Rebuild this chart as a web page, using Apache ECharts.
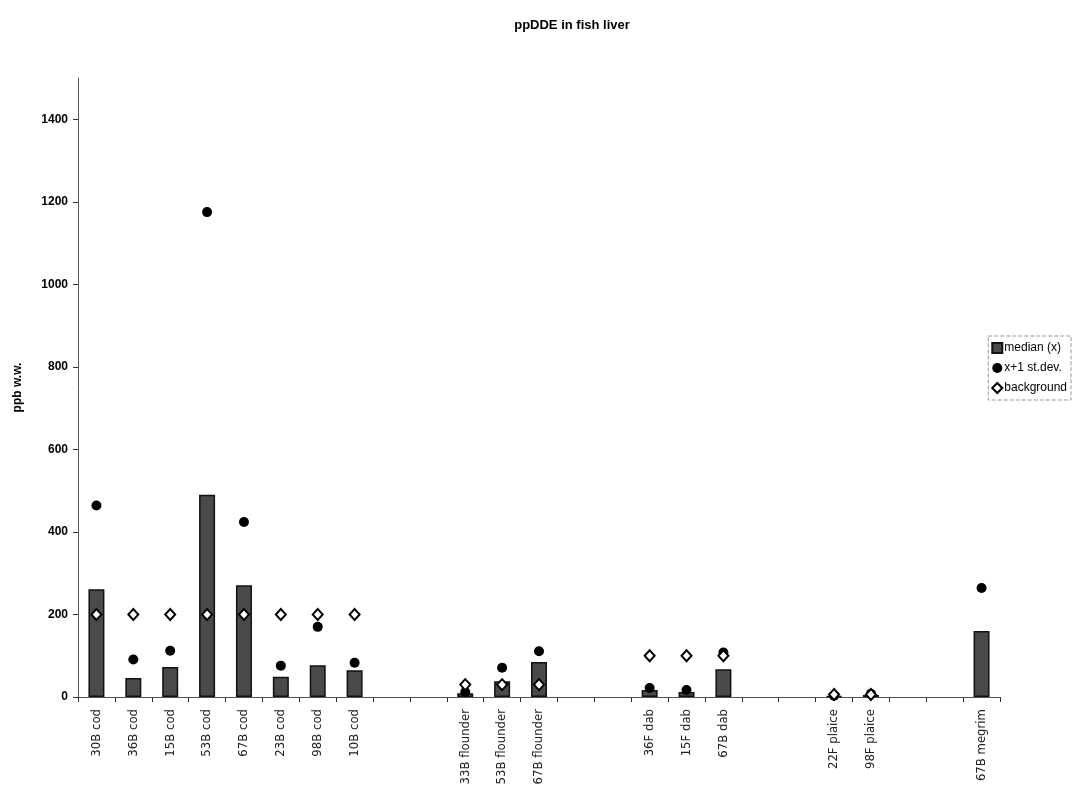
<!DOCTYPE html>
<html>
<head>
<meta charset="utf-8">
<script src="https://cdn.jsdelivr.net/npm/echarts@6/dist/echarts.min.js"></script>
<style>html,body{margin:0;padding:0;background:#fff}#c{width:1073px;height:785px}</style>
</head>
<body>
<div id="c"></div>
<script>
const categories = ['30B cod','36B cod','15B cod','53B cod','67B cod','23B cod','98B cod','10B cod',' ','  ',
  '33B flounder','53B flounder','67B flounder','   ','    ',
  '36F dab','15F dab','67B dab','     ','      ',
  '22F plaice','98F plaice','       ','        ',
  '67B megrim'];
const median = [261,46,73,490,271,49,77,65,'-','-', 9,38,85,'-','-', 17,12,67,'-','-', 2,5,'-','-', 160];
const plusSd = [464,91,112,1175,424,76,170,83,'-','-', 12,71,111,'-','-', 22,17,108,'-','-', 3,8,'-','-', 264];
const background = [200,200,200,200,200,200,200,200,'-','-', 30,30,30,'-','-', 100,100,100,'-','-', 6,6,'-','-', '-'];
const yTicks = { min: 0, max: 1500, interval: 200 };

const chart = echarts.init(document.getElementById('c'));
chart.setOption({
  backgroundColor: '#fff',
  animation: false,
  title: {
    text: 'ppDDE in fish liver', left: 567, top: 14, textAlign: 'center',
    textStyle: { fontFamily: 'Liberation Sans, Arial', fontSize: 13, fontWeight: 'bold', color: '#000' }
  },
  legend: {
    orient: 'vertical', right: 2, top: 336, itemGap: 8, itemWidth: 10, itemHeight: 10,
    padding: [6, 4, 6, 3], borderColor: '#999', borderWidth: 1, borderType: 'dashed',
    backgroundColor: '#fff',
    textStyle: { fontFamily: 'Liberation Sans, Arial', fontSize: 12, color: '#000', padding: [0,0,0,-3] },
    data: [
      { name: 'median (x)', icon: 'rect' },
      { name: 'x+1 st.dev.', icon: 'circle' },
      { name: 'background', icon: 'diamond', itemStyle: { color: '#fff', borderColor: '#000', borderWidth: 2 } }
    ]
  },
  grid: { left: 78, right: 73, top: 78, bottom: 88, containLabel: false, outerBoundsMode: 'none' },
  xAxis: {
    type: 'category', data: categories,
    axisLine: { lineStyle: { color: '#555', width: 1 } },
    axisTick: { show: true, length: 5, lineStyle: { color: '#333' } },
    axisLabel: {
      rotate: 90, interval: 0, margin: 12,
      fontFamily: 'Liberation Sans Narrow, Arial Narrow, DejaVu Sans Condensed, sans-serif',
      fontSize: 13, color: '#222'
    }
  },
  yAxis: {
    type: 'value', min: yTicks.min, max: yTicks.max, interval: yTicks.interval,
    name: 'ppb w.w.', nameLocation: 'middle', nameGap: 54, nameRotate: 90,
    nameTextStyle: { fontFamily: 'Liberation Sans, Arial', fontSize: 12, fontWeight: 'bold', color: '#000' },
    splitLine: { show: false },
    axisLine: { show: true, lineStyle: { color: '#555', width: 1 } },
    axisTick: { show: true, length: 5, lineStyle: { color: '#333' } },
    axisLabel: {
      showMaxLabel: false, margin: 10, formatter: v => String(v),
      fontFamily: 'Liberation Sans, Arial', fontSize: 12, fontWeight: 'bold', color: '#000'
    }
  },
  series: [
    {
      name: 'median (x)', type: 'bar', data: median, barWidth: 16,
      itemStyle: { color: '#4a4a4a', borderColor: '#111', borderWidth: 1.5 }
    },
    {
      name: 'x+1 st.dev.', type: 'scatter', data: plusSd, symbol: 'circle', symbolSize: 10,
      itemStyle: { color: '#000', opacity: 1 }, z: 3
    },
    {
      name: 'background', type: 'scatter', data: background, symbol: 'diamond', symbolSize: [10, 11],
      itemStyle: { color: '#fff', borderColor: '#000', borderWidth: 2, opacity: 1 }, z: 4
    }
  ]
});
</script>
</body>
</html>
